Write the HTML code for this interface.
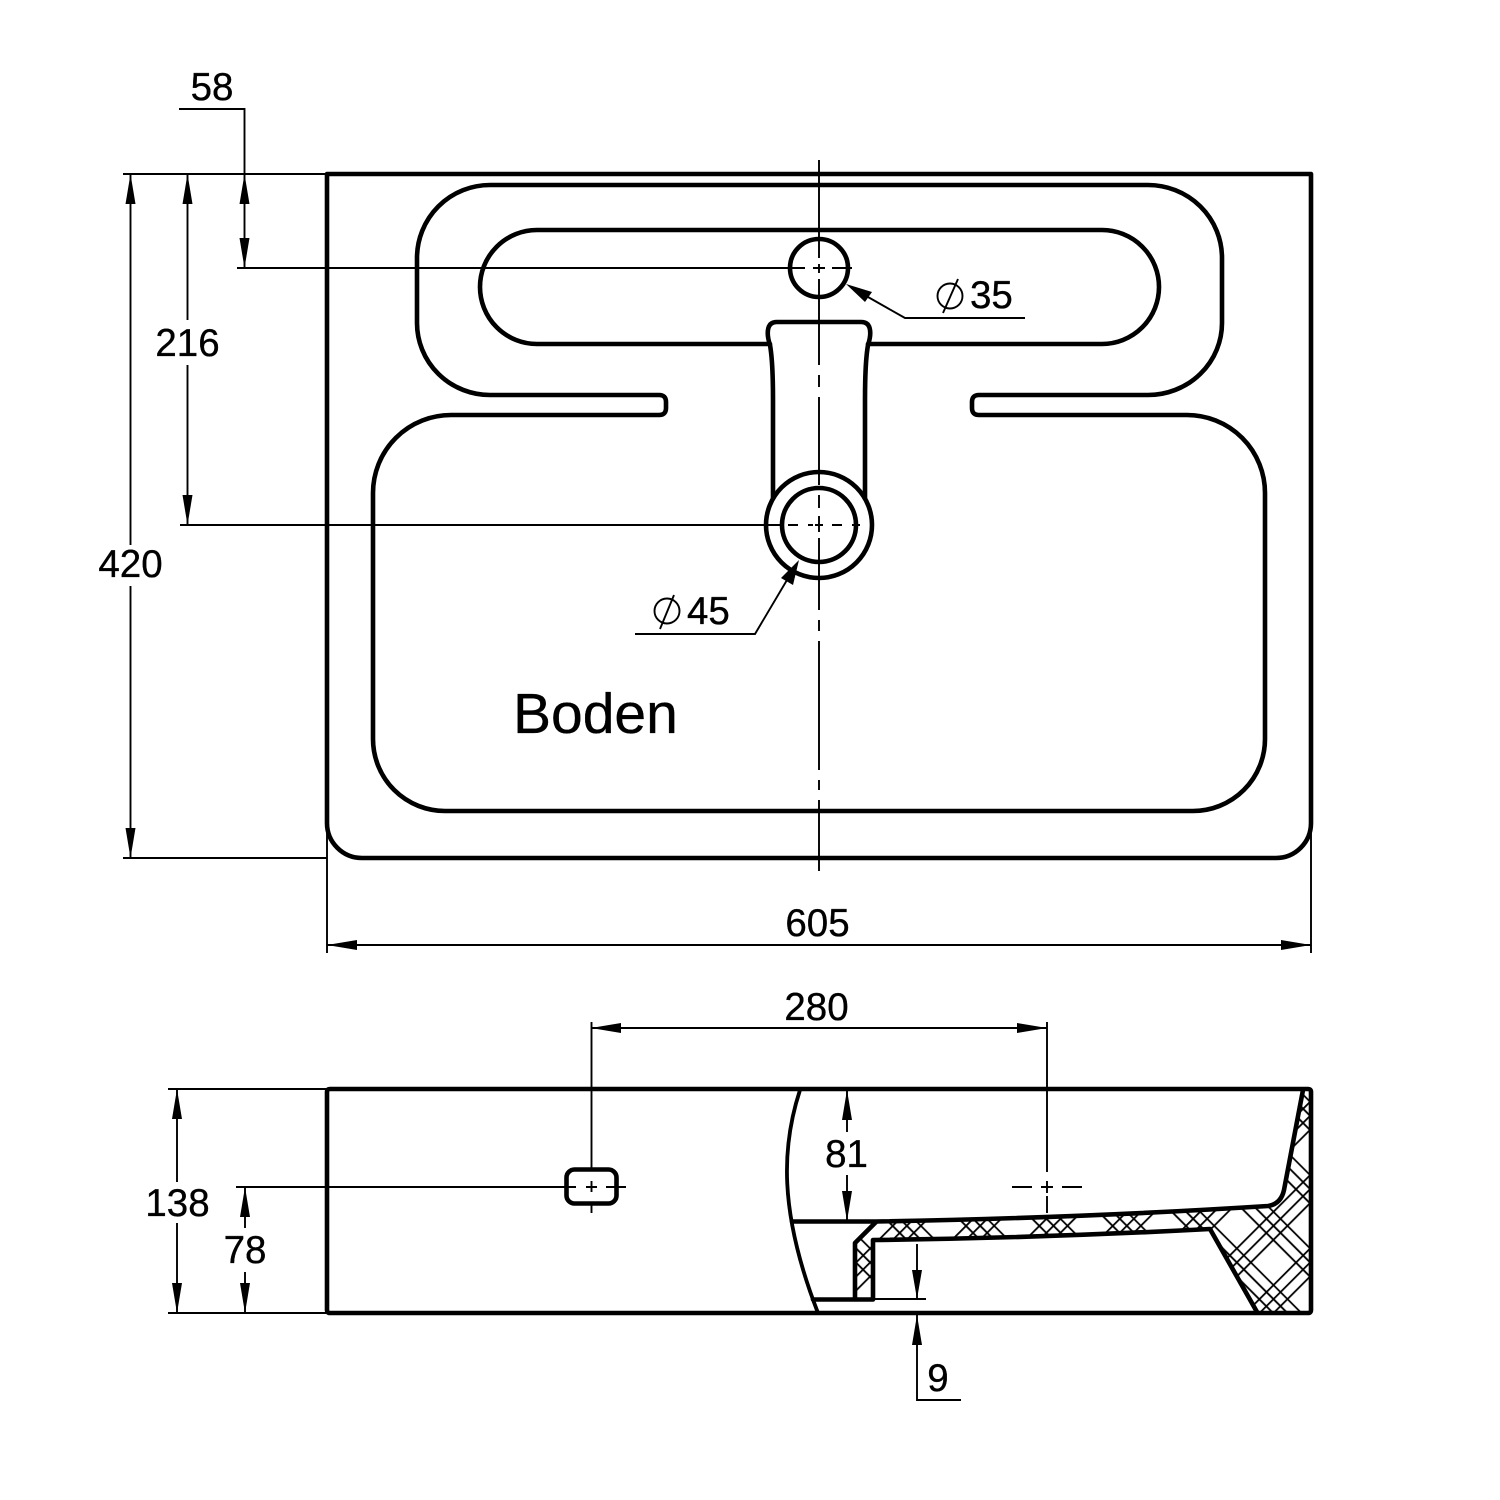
<!DOCTYPE html>
<html><head><meta charset="utf-8"><style>
html,body{margin:0;padding:0;background:#fff}
svg{display:block}
text{font-family:"Liberation Sans",sans-serif;font-size:38.5px;fill:#000;stroke:#000;stroke-width:.35}
.t{fill:none;stroke:#000;stroke-width:1.9}
.m{fill:none;stroke:#000;stroke-width:4.6;stroke-linejoin:round;stroke-linecap:round}
.a{fill:#000;stroke:none}
</style></head><body>
<svg width="1500" height="1500" viewBox="0 0 1500 1500" xmlns="http://www.w3.org/2000/svg">
<defs>
<pattern id="h" patternUnits="userSpaceOnUse" width="51.85" height="51.85" patternTransform="rotate(45)">
<path d="M4.35 0V51.85M14.25 0V51.85M46.3 0V51.85M0 8.25H51.85M0 18.15H51.85M0 28.25H51.85" stroke="#000" stroke-width="1.8" fill="none"/>
</pattern>
</defs>

<!-- top view -->
<path class="m" d="M327 174H1311V823A35 35 0 0 1 1276 858H362A35 35 0 0 1 327 823Z"/>
<path class="m" d="M490 395A73 72 0 0 1 417 323V258A73 73 0 0 1 490 185H1148A74 73 0 0 1 1222 258V323A74 72 0 0 1 1148 395H979Q972 395 972 402V408Q972 415 979 415H1187A78 78 0 0 1 1265 493V739A72 72 0 0 1 1193 811H445A72 72 0 0 1 373 739V493A78 78 0 0 1 451 415H659Q666 415 666 408V402Q666 395 659 395Z"/>
<path class="m" d="M770 344H537A57 57 0 0 1 537 230H1102A57 57 0 0 1 1102 344H868"/>
<path class="m" d="M773 498V400Q773 362 770 345Q767 336 768 330Q769 322 777 322H861Q869 322 870 330Q871 336 868 345Q865 362 865 400V498"/>
<circle class="m" cx="819" cy="268" r="29"/>
<circle cx="819" cy="525" r="53" fill="#fff" stroke="#000" stroke-width="4.6"/>
<circle class="m" cx="819" cy="525" r="37"/>

<!-- centre lines top -->
<path class="t" d="M819 160V258M819 264V273M819 279V365M819 375V387M819 397V485M819 495V508M819 516V532M819 538V610M819 620V631M819 641V770M819 780V790M819 800V871"/>
<path class="t" d="M237 268H805M813 268H825M832 268H852"/>
<path class="t" d="M180 525H780M788 525H798M808 525H813M815 525H823M832 525H842M852 525H860"/>

<!-- left dims top -->
<path class="t" d="M123 174H327M123 858H327"/>
<path class="t" d="M130.500 174V545M130.500 586V858"/>
<path class="a" d="M130.500 174L125.500 204H135.500ZM130.500 858L125.500 828H135.500Z"/>
<text x="130.500" y="577" text-anchor="middle">420</text>
<path class="t" d="M187.500 174V320M187.500 365V525"/>
<path class="a" d="M187.500 174L182.500 204H192.500ZM187.500 525L182.500 495H192.500Z"/>
<text x="187.500" y="356" text-anchor="middle">216</text>
<path class="t" d="M179 109H244.500V268"/>
<path class="a" d="M244.500 174L239.500 204H249.500ZM244.500 268L239.500 238H249.500Z"/>
<text x="212" y="100" text-anchor="middle">58</text>

<!-- 605 -->
<path class="t" d="M327 830V953M1311 830V953M327 945H1311"/>
<path class="a" d="M327 945L357 940V950ZM1311 945L1281 940V950Z"/>
<text x="817.500" y="936" text-anchor="middle">605</text>

<!-- phi 35 -->
<path class="t" d="M1025 318H905L868 297"/>
<path class="a" d="M846 284L872 292L865 302Z"/>
<circle class="t" cx="950" cy="296" r="12.500"/>
<path class="t" d="M943 313L958 279"/>
<text x="970" y="308">35</text>
<!-- phi 45 -->
<path class="t" d="M635 634H755L787 580"/>
<path class="a" d="M799 560L793 585L781 578Z"/>
<circle class="t" cx="667" cy="611" r="12.500"/>
<path class="t" d="M660 629L674 595"/>
<text x="687" y="624">45</text>

<text x="513" y="733" style="font-size:57px">Boden</text>

<!-- side view -->
<path d="M876 1221Q1080 1218 1268 1206Q1281 1204 1284 1190L1303 1090H1311V1313H1258L1210 1229L873 1240V1299H855V1242Z" fill="url(#h)"/>
<path class="m" d="M330 1089H1308Q1311 1089 1311 1092V1310Q1311 1313 1308 1313H330Q327 1313 327 1310V1092Q327 1089 330 1089Z"/>
<path class="m" style="stroke-width:3.800" d="M800 1090C782 1145 778 1210 818 1313"/>
<path class="m" d="M792 1221.500H876Q1080 1218 1268 1206Q1281 1204 1284 1190L1303 1090"/>
<path class="m" d="M876 1222L855 1243V1299M813 1299.500H873V1240Q1040 1238 1210 1229L1257 1312"/>
<rect x="566.500" y="1169.500" width="50" height="34" rx="8" class="m"/>

<path class="t" d="M591.500 1022V1168M591.500 1181V1192M591.500 1205V1213M236 1187H576M586 1187H597M606 1187H626"/>
<path class="t" d="M1047 1022V1172M1047 1181V1193M1047 1196V1213M1012 1187H1032M1041 1187H1053M1062 1187H1082"/>
<path class="t" d="M591 1028H1047"/>
<path class="a" d="M591 1028L621 1023V1033ZM1047 1028L1017 1023V1033Z"/>
<text x="816.500" y="1020" text-anchor="middle">280</text>

<path class="t" d="M168 1089H327M168 1313H327"/>
<path class="t" d="M177 1089V1182M177 1223V1313"/>
<path class="a" d="M177 1089L172 1119H182ZM177 1313L172 1283H182Z"/>
<text x="177.500" y="1216" text-anchor="middle">138</text>
<path class="t" d="M245 1187V1228M245 1272V1313"/>
<path class="a" d="M245 1187L240 1217H250ZM245 1313L240 1283H250Z"/>
<text x="245" y="1263" text-anchor="middle">78</text>
<path class="t" d="M847 1089V1132M847 1175V1221"/>
<path class="a" d="M847 1090L842 1120H852ZM847 1221L842 1191H852Z"/>
<text x="846.500" y="1167" text-anchor="middle">81</text>
<path class="t" d="M917 1244V1299M873 1299H926M917 1314V1400H961"/>
<path class="a" d="M917 1299L912 1270H922ZM917 1315L912 1345H922Z"/>
<text x="938" y="1391" text-anchor="middle">9</text>
</svg>
</body></html>
